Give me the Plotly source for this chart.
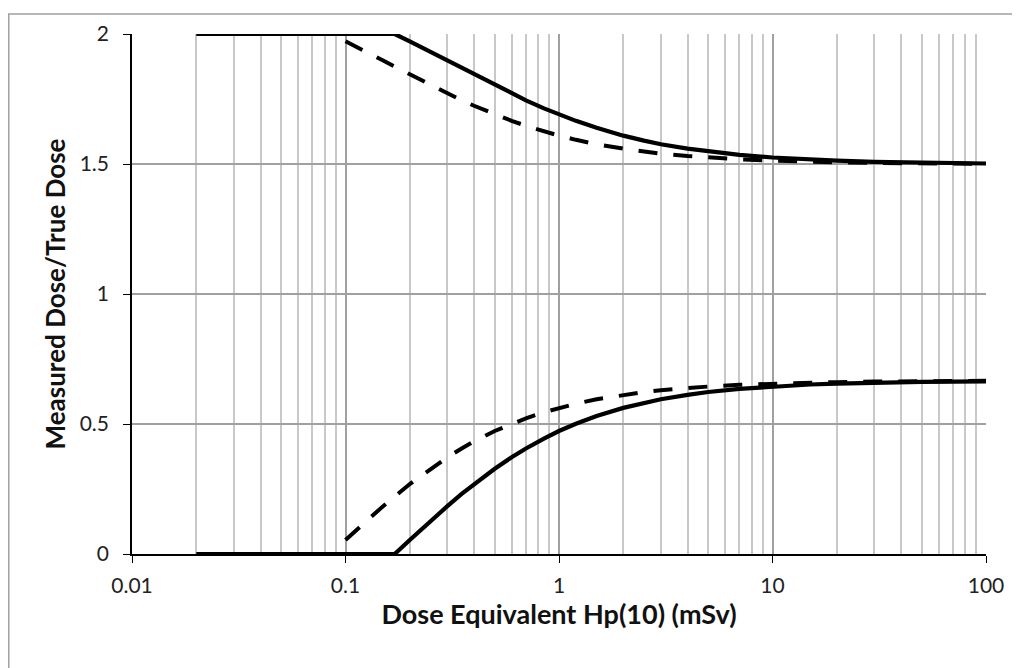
import plotly.graph_objects as go

# Dose values (mSv) and response ratios
solid_x = [0.02, 0.17, 0.2, 0.25, 0.3, 0.35, 0.4, 0.5, 0.6, 0.7, 0.85, 1, 1.2, 1.5, 2, 2.5, 3, 4, 5, 7, 10, 15, 20, 30, 50, 100]
upper_solid_y = [2.0, 2.0, 1.972, 1.932, 1.898, 1.870, 1.845, 1.804, 1.771, 1.745, 1.714, 1.690, 1.666, 1.639, 1.609,
                 1.590, 1.576, 1.559, 1.548, 1.535, 1.525, 1.517, 1.513, 1.508, 1.505, 1.502]
lower_solid_y = [0.0, 0.0, 0.054, 0.127, 0.184, 0.231, 0.269, 0.328, 0.372, 0.406, 0.444, 0.473, 0.501, 0.531, 0.562,
                 0.582, 0.595, 0.612, 0.623, 0.635, 0.644, 0.652, 0.655, 0.659, 0.662, 0.664]

dash_x = [0.1, 0.12, 0.15, 0.2, 0.25, 0.3, 0.35, 0.4, 0.5, 0.6, 0.7, 0.85, 1, 1.2, 1.5, 2, 2.5, 3, 4, 5, 7, 10, 15, 20, 30, 50, 100]
upper_dash_y = [1.972, 1.940, 1.898, 1.845, 1.804, 1.771, 1.745, 1.724, 1.690, 1.666, 1.647, 1.625, 1.609, 1.593, 1.576,
                1.559, 1.548, 1.540, 1.531, 1.525, 1.518, 1.513, 1.508, 1.506, 1.504, 1.503, 1.501]
lower_dash_y = [0.054, 0.114, 0.184, 0.269, 0.328, 0.372, 0.406, 0.433, 0.473, 0.501, 0.522, 0.545, 0.562, 0.578, 0.595,
                0.612, 0.623, 0.630, 0.639, 0.644, 0.651, 0.655, 0.659, 0.661, 0.663, 0.664, 0.666]

x_tick_vals = [0.01, 0.1, 1, 10, 100]
x_tick_text = ["0.01", "0.1", "1", "10", "100"]
y_tick_vals = [0, 0.5, 1, 1.5, 2]
y_tick_text = ["0", "0.5", "1", "1.5", "2"]

FONT = "Lato"

fig = go.Figure()
solid = dict(color="black", width=4.2)
dashed = dict(color="black", width=4, dash="19px,16px")
fig.add_trace(go.Scatter(x=solid_x, y=upper_solid_y, mode="lines", line=solid, showlegend=False))
fig.add_trace(go.Scatter(x=solid_x, y=lower_solid_y, mode="lines", line=solid, showlegend=False))
fig.add_trace(go.Scatter(x=dash_x, y=upper_dash_y, mode="lines", line=dashed, showlegend=False))
fig.add_trace(go.Scatter(x=dash_x, y=lower_dash_y, mode="lines", line=dashed, showlegend=False))

fig.update_layout(
    width=1012, height=660,
    margin=dict(l=124, r=34, t=21, b=114, pad=0),
    paper_bgcolor="white", plot_bgcolor="white",
    font=dict(family=FONT, size=21, color="#222222"),
    showlegend=False,
    xaxis=dict(
        type="log", range=[-2, 2],
        tickvals=x_tick_vals, ticktext=x_tick_text,
        showgrid=True, gridcolor="#a0a0a0", gridwidth=1.5,
        minor=dict(dtick="D1", showgrid=True, gridcolor="#c8c8c8", gridwidth=1.5, ticks=""),
        showline=True, linecolor="black", linewidth=1.6,
        ticks="outside", ticklen=7, tickcolor="black", tickwidth=1.4,
        ticklabelstandoff=5,
        zeroline=False,
        title=dict(text="<b>Dose Equivalent Hp(10) (mSv)</b>", font=dict(family=FONT, size=27, color="#111111"), standoff=2),
    ),
    yaxis=dict(
        range=[0, 2],
        tickvals=y_tick_vals, ticktext=y_tick_text,
        showgrid=True, gridcolor="#a0a0a0", gridwidth=1.5,
        showline=True, linecolor="black", linewidth=1.6,
        ticks="outside", ticklen=7, tickcolor="black", tickwidth=1.4,
        ticklabelstandoff=10,
        zeroline=False,
        title=dict(text="<b>Measured Dose/True Dose</b>", font=dict(family=FONT, size=26, color="#111111"), standoff=7),
    ),
    shapes=[
        dict(type="rect", xref="paper", yref="paper",
             x0=-0.1443, x1=1.2, y0=-0.4, y1=1.0387,
             line=dict(color="#a0a0a0", width=1.5), fillcolor="rgba(0,0,0,0)", layer="below"),
    ],
)

fig.write_html("out.html")
